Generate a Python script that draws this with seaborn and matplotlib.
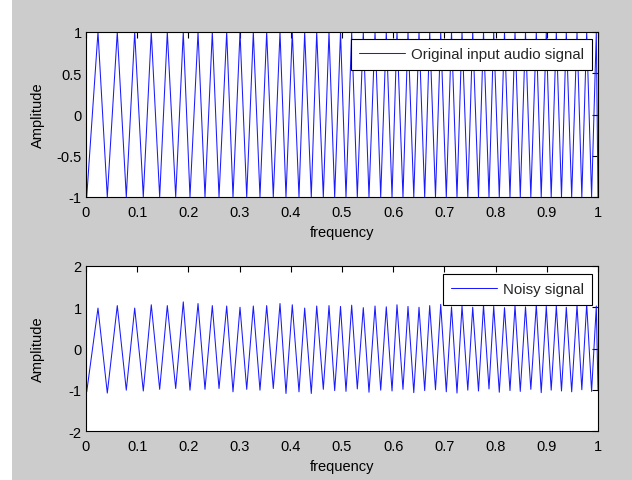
import matplotlib
matplotlib.use("Agg")
import matplotlib.pyplot as plt
from matplotlib.patches import Rectangle
import seaborn as sns
import pandas as pd

# ---- data (x in "frequency" units) ----
trough_x = [0.0014, 0.0416, 0.0787, 0.1119, 0.1439, 0.1752, 0.2031, 0.2324, 0.2598, 0.2871,
            0.3139, 0.3398, 0.3658, 0.3906, 0.4160, 0.4400, 0.4635, 0.4857, 0.5078, 0.5299,
            0.5527, 0.5756, 0.5977, 0.6191, 0.6402, 0.6615, 0.6826, 0.7037, 0.7246, 0.7457,
            0.7666, 0.7871, 0.8072, 0.8281, 0.8482, 0.8688, 0.8891, 0.9086, 0.9287, 0.9486,
            0.9684, 0.9875, 1.0000]
peak_x = [0.0234, 0.0611, 0.0951, 0.1275, 0.1588, 0.1900, 0.2188, 0.2467, 0.2748, 0.3008,
          0.3268, 0.3529, 0.3789, 0.4029, 0.4271, 0.4506, 0.4746, 0.4971, 0.5189, 0.5416,
          0.5645, 0.5865, 0.6074, 0.6289, 0.6504, 0.6713, 0.6928, 0.7139, 0.7344, 0.7553,
          0.7764, 0.7963, 0.8174, 0.8379, 0.8584, 0.8795, 0.8990, 0.9186, 0.9381, 0.9590,
          0.9779, 0.9967]

orig_start = -0.8
orig_peaks = [1.0] * 42
orig_troughs = [-1.0] * 43

noisy_start = -0.55
noisy_peaks = [0.98, 1.04, 0.98, 1.06, 1.04, 1.13, 1.09, 1.04, 1.03, 1.00, 1.03, 1.04, 1.09, 1.06,
               0.98, 1.03, 1.04, 1.02, 1.05, 0.99, 1.03, 1.01, 1.06, 1.02, 1.00, 1.04, 1.07, 1.01,
               1.03, 1.00, 1.05, 1.02, 0.99, 1.04, 1.01, 1.06, 1.02, 1.03, 1.00, 1.05, 1.08, 1.03]
noisy_troughs = [-1.05, -1.08, -1.01, -1.03, -0.99, -0.97, -1.01, -0.99, -0.97, -1.05, -0.99,
                 -1.01, -0.97, -1.09, -1.05, -1.09, -0.99, -1.02, -1.04, -0.98, -1.06, -1.01,
                 -1.03, -0.99, -1.07, -1.02, -1.00, -1.05, -1.08, -1.01, -1.03, -0.98, -1.06,
                 -1.02, -1.04, -0.99, -1.07, -1.01, -1.03, -1.05, -1.00, -1.04, -1.00]

x_ticks = [0, 0.1, 0.2, 0.3, 0.4, 0.5, 0.6, 0.7, 0.8, 0.9, 1]
x_ticklabels = ["0", "0.1", "0.2", "0.3", "0.4", "0.5", "0.6", "0.7", "0.8", "0.9", "1"]
top_yticks = [-1, -0.5, 0, 0.5, 1]
top_yticklabels = ["-1", "-0.5", "0", "0.5", "1"]
bot_yticks = [-2, -1, 0, 1, 2]
bot_yticklabels = ["-2", "-1", "0", "1", "2"]


def assemble(start, troughs, peaks):
    xs, ys = [0.0], [start]
    for i in range(len(peaks)):
        xs += [trough_x[i], peak_x[i]]
        ys += [troughs[i], peaks[i]]
    xs.append(trough_x[-1])
    ys.append(troughs[-1])
    return pd.DataFrame({"frequency": xs, "Amplitude": ys})


df_orig = assemble(orig_start, orig_troughs, orig_peaks)
df_noisy = assemble(noisy_start, noisy_troughs, noisy_peaks)

sns.set_theme(style="white")
plt.rcParams["font.family"] = ["Liberation Sans", "DejaVu Sans"]

W, H = 632, 481
fig = plt.figure(figsize=(W / 100, H / 100), dpi=100)
fig.patch.set_facecolor("#cccccc")
fig.patches.append(Rectangle((0, 0), 12 / W, 1, transform=fig.transFigure,
                             facecolor="white", edgecolor="none", zorder=-1))

ax1 = fig.add_axes([86 / W, 1 - 198 / H, 512 / W, 165 / H])
ax2 = fig.add_axes([86 / W, 1 - 432 / H, 512 / W, 165 / H])

line_color = "#1a1aff"
sns.lineplot(data=df_orig, x="frequency", y="Amplitude", ax=ax1, sort=False,
             estimator=None, color=line_color, lw=0.75, label="Original input audio signal")
sns.lineplot(data=df_noisy, x="frequency", y="Amplitude", ax=ax2, sort=False,
             estimator=None, color=line_color, lw=0.75, label="Noisy signal")

for ax, yt, ytl, ylim, leg_top in [
    (ax1, top_yticks, top_yticklabels, (-1, 1), (198 - 40) / 165),
    (ax2, bot_yticks, bot_yticklabels, (-2, 2), (432 - 275) / 165),
]:
    ax.set_facecolor("white")
    ax.set_xlim(0, 1)
    ax.set_ylim(*ylim)
    ax.set_xticks(x_ticks)
    ax.set_xticklabels(x_ticklabels)
    ax.set_yticks(yt)
    ax.set_yticklabels(ytl)
    ax.tick_params(direction="in", top=True, right=True, length=4, width=0.8,
                   color="black", labelsize=10.5, labelcolor="black")
    ax.tick_params(axis="x", pad=6)
    ax.tick_params(axis="y", pad=3)
    for s in ax.spines.values():
        s.set_visible(True)
        s.set_color("black")
        s.set_linewidth(0.8)
    ax.set_xlabel("frequency", fontsize=10.5, color="black")
    ax.xaxis.set_label_coords(0.5, -(226 - 198) / 165)
    ax.set_ylabel("Amplitude", fontsize=10.5, color="black")
    ax.yaxis.set_label_coords(-(86 - 45) / 512, 0.5)
    leg = ax.legend(loc="upper right", bbox_to_anchor=(0.988, leg_top), borderaxespad=0,
                    fontsize=10.8, frameon=True, fancybox=False, framealpha=1,
                    edgecolor="black", handlelength=3.1, handletextpad=0.35,
                    borderpad=0.55)
    leg.get_frame().set_linewidth(0.8)

fig.savefig("out.png", dpi=100, facecolor=fig.get_facecolor())
